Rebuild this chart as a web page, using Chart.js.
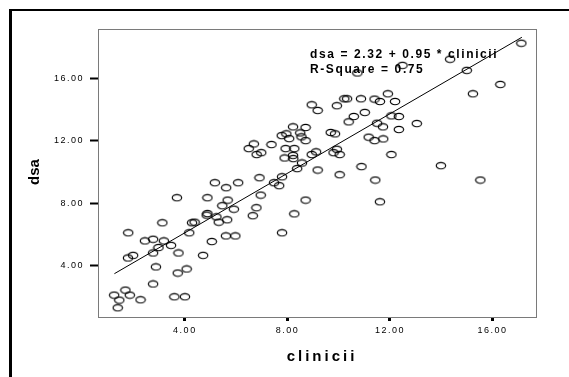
<!DOCTYPE html>
<html>
<head>
<meta charset="utf-8">
<title>dsa vs clinicii</title>
<script src="https://cdn.jsdelivr.net/npm/chart.js@4"></script>
<style>
  html, body { margin: 0; padding: 0; background: #fff; }
  #wrap { width: 569px; height: 377px; }
</style>
</head>
<body>
<div id="wrap"><canvas id="grafico" width="569" height="377"></canvas></div>
<script>
// valori
const clinicii = [1.24, 1.68, 1.44, 1.85, 1.38, 2.27, 2.76, 3.59, 4.00, 3.72,
  4.07, 2.87, 1.78, 1.98, 2.76, 3.75, 4.71, 2.97, 2.44, 2.76,
  3.18, 3.46, 1.79, 3.12, 4.17, 4.28, 4.38, 5.05, 3.69, 4.88,
  4.85, 4.88, 5.23, 5.32, 5.17, 5.61, 6.08, 5.46, 5.67, 5.65,
  5.91, 5.60, 5.97, 6.65, 6.79, 6.96, 6.91, 6.49, 6.69, 6.80,
  6.98, 7.38, 7.48, 7.68, 7.79, 7.79, 7.78, 7.96, 8.07, 8.22,
  7.93, 7.89, 8.22, 8.23, 8.27, 8.50, 8.55, 8.71, 8.71, 8.57,
  8.38, 8.27, 8.71, 8.95, 9.18, 8.95, 9.12, 9.18, 9.69, 9.86,
  9.93, 10.22, 10.33, 9.80, 9.93, 10.04, 10.04, 10.39, 10.59, 10.73,
  10.87, 11.02, 10.89, 11.17, 11.40, 11.43, 11.40, 11.61, 11.50, 11.73,
  11.74, 11.61, 11.92, 12.06, 12.20, 12.35, 12.35, 12.06, 12.49, 13.05,
  13.99, 14.35, 15.00, 15.24, 15.53, 16.31, 17.13];
const dsa = [2.14, 2.46, 1.82, 2.14, 1.33, 1.84, 2.85, 2.03, 2.03, 3.55,
  3.81, 3.94, 4.51, 4.68, 4.83, 4.83, 4.68, 5.18, 5.60, 5.71,
  5.60, 5.32, 6.12, 6.76, 6.12, 6.76, 6.80, 5.56, 8.36, 8.36,
  7.25, 7.35, 7.14, 6.80, 9.32, 9.00, 9.32, 7.85, 8.21, 6.95,
  7.63, 5.92, 5.92, 7.21, 7.72, 8.53, 9.64, 11.50, 11.80, 11.12,
  11.24, 11.76, 9.32, 9.13, 9.70, 6.12, 12.33, 12.44, 12.14, 12.89,
  11.50, 10.90, 11.07, 10.86, 11.50, 12.50, 12.25, 12.85, 12.01, 10.58,
  10.22, 7.33, 8.21, 14.30, 13.94, 11.12, 11.29, 10.13, 12.53, 12.44,
  14.24, 14.68, 14.68, 11.24, 11.46, 11.12, 9.83, 13.21, 13.55, 16.33,
  14.68, 13.81, 10.35, 12.23, 12.01, 9.49, 14.66, 14.51, 13.12, 12.89,
  12.12, 8.10, 15.00, 13.59, 14.51, 13.55, 12.72, 11.12, 16.82, 13.10,
  10.41, 17.21, 16.50, 15.00, 9.49, 15.60, 18.23];

// dreapta de regresie
const interceptie = 2.32;
const panta = 0.95;
const capeteDreapta = [1.25, 17.15];

const ticksX = [4, 8, 12, 16];
const ticksY = [4, 8, 12, 16];
const limiteX = [0.61, 17.74];
const limiteY = [0.74, 19.14];

const textEcuatie = 'dsa = ' + interceptie.toFixed(2) + ' + ' + panta.toFixed(2) + ' * clinicii';
const textR2 = 'R-Square = 0.75';

// cerc turtit ca in SPSS
function crearMarcador() {
  const c = document.createElement('canvas');
  c.width = 12;
  c.height = 9;
  const g = c.getContext('2d');
  g.strokeStyle = '#000';
  g.lineWidth = 1.15;
  g.beginPath();
  g.ellipse(6, 4.5, 4.7, 3.2, 0, 0, Math.PI * 2);
  g.stroke();
  return c;
}

const puncte = clinicii.map((x, i) => ({ x: x, y: dsa[i] }));
const linie = capeteDreapta.map(x => ({ x: x, y: interceptie + panta * x }));

const decor = {
  id: 'decor',
  beforeDraw(chart) {
    const ctx = chart.ctx;
    ctx.save();
    ctx.fillStyle = '#000';
    ctx.fillRect(9, 9, 560, 2);
    ctx.fillRect(9, 9, 3, 368);
    ctx.restore();
    ctx.letterSpacing = '1.5px';
  },
  afterDraw(chart) {
    const ctx = chart.ctx;
    const a = chart.chartArea;
    ctx.letterSpacing = '0px';
    ctx.save();
    ctx.strokeStyle = '#7a7a7a';
    ctx.lineWidth = 1;
    ctx.strokeRect(Math.round(a.left) + 0.5, Math.round(a.top) + 0.5,
      Math.round(a.right - a.left) - 1, Math.round(a.bottom - a.top));

    ctx.fillStyle = '#000';
    ctx.textBaseline = 'middle';
    ctx.font = 'bold 12px "Liberation Sans", Arial, sans-serif';
    ctx.letterSpacing = '1.6px';
    ctx.textAlign = 'left';
    ctx.fillText(textEcuatie, 310, 55);
    ctx.fillText(textR2, 310, 69.5);

    ctx.font = 'bold 15px "Liberation Sans", Arial, sans-serif';
    ctx.letterSpacing = '3px';
    ctx.textAlign = 'center';
    ctx.fillText('clinicii', 322, 357);

    ctx.letterSpacing = '0px';
    ctx.translate(35, 172);
    ctx.rotate(-Math.PI / 2);
    ctx.fillText('dsa', 0, 0);
    ctx.restore();
  }
};

const fontTicks = { family: '"Liberation Sans", Arial, sans-serif', size: 9 };

new Chart(document.getElementById('grafico'), {
  type: 'scatter',
  data: {
    datasets: [
      {
        type: 'line',
        data: linie,
        borderColor: '#000',
        borderWidth: 1,
        pointRadius: 0,
        fill: false
      },
      {
        data: puncte,
        pointStyle: crearMarcador(),
        pointRadius: 4,
        pointHoverRadius: 4
      }
    ]
  },
  options: {
    responsive: false,
    animation: false,
    events: [],
    layout: { padding: { left: 10, right: 32, top: 29, bottom: 0 } },
    plugins: {
      legend: { display: false },
      tooltip: { enabled: false }
    },
    scales: {
      x: {
        type: 'linear',
        min: limiteX[0],
        max: limiteX[1],
        afterBuildTicks: s => { s.ticks = ticksX.map(v => ({ value: v })); },
        afterFit: s => { s.height = 60; },
        border: { display: false },
        grid: { drawOnChartArea: false, tickLength: 4, tickWidth: 3, tickColor: '#000' },
        ticks: { color: '#000', font: fontTicks, padding: 4, maxRotation: 0,
          callback: v => Number(v).toFixed(2) }
      },
      y: {
        type: 'linear',
        min: limiteY[0],
        max: limiteY[1],
        afterBuildTicks: s => { s.ticks = ticksY.map(v => ({ value: v })); },
        afterFit: s => { s.width = 88; },
        border: { display: false },
        grid: { drawOnChartArea: false, tickLength: 8, tickWidth: 2, tickColor: '#000' },
        ticks: { color: '#000', font: fontTicks, padding: 6,
          callback: v => Number(v).toFixed(2) }
      }
    }
  },
  plugins: [decor]
});
</script>
</body>
</html>
